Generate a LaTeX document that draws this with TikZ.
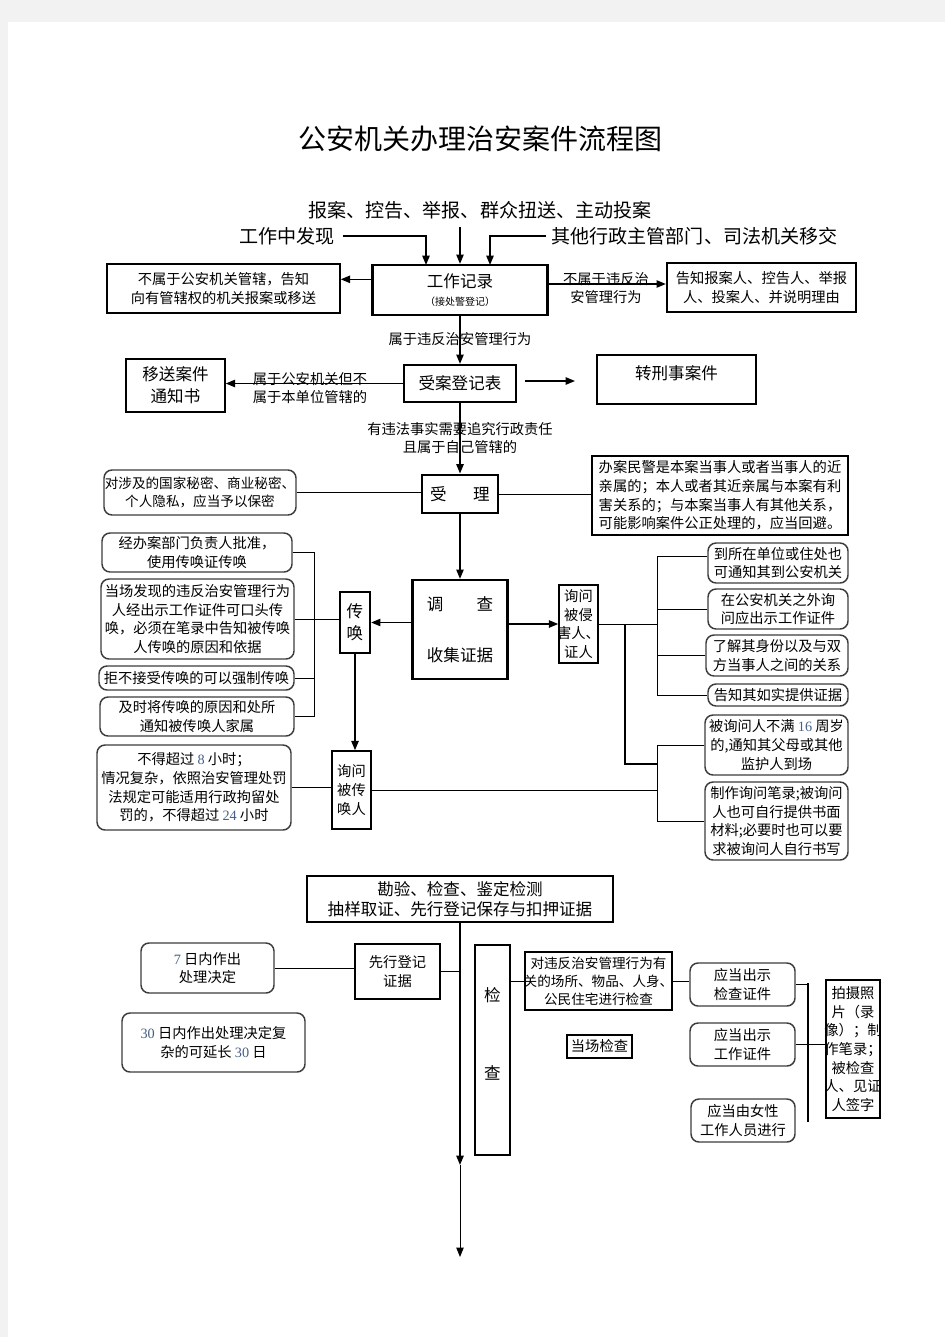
\documentclass[tikz,border=0pt]{standalone}
\usepackage{fontspec}
\setmainfont{Noto Sans CJK SC}
\newfontfamily\numfont{Liberation Serif}
\usetikzlibrary{arrows.meta}
\definecolor{pagegray}{RGB}{242,242,242}
\definecolor{numblue}{RGB}{70,95,135}
\definecolor{edgegray}{RGB}{60,60,60}
\newcommand{\num}[1]{{\numfont\color{numblue}#1}}
\newcommand{\fitline}[1]{\makebox[\linewidth]{#1}}
\tikzset{
  sz/.style 2 args={minimum width=#1*0.75pt,minimum height=#2*0.75pt},
}

\begin{document}
\begin{tikzpicture}[
      x=0.75pt,y=-0.75pt,
      >={Triangle[length=7pt,width=5.5pt]},
      every node/.style={inner sep=0pt,align=center},
      txt/.style={font=\fontsize{10.7}{14}\selectfont},
      big/.style={font=\fontsize{12.4}{16.5}\selectfont},
      head/.style={font=\fontsize{14.3}{17}\selectfont},
      box/.style={draw,line width=1.1pt,txt},
      thinbox/.style={draw,line width=0.8pt,txt},
      heavy/.style={draw,line width=1.7pt,big},
      rbox/.style={draw=edgegray,line width=1.1pt,rounded corners=6pt,txt},
      conn/.style={line width=1.1pt},
      link/.style={line width=0.75pt}
      ]
      \useasboundingbox (0,0) rectangle (945,1337);
      \fill[pagegray] (0,0) rectangle (945,1337);
      \fill[white] (8,22) rectangle (945,1337);

      \node[font=\fontsize{21}{24}\selectfont] (title) at (480,139) {公安机关办理治安案件流程图};
      \node[head] (src) at (480,210) {报案、控告、举报、群众扭送、主动投案};
      \node[head] (find) at (287,236) {工作中发现};
      \node[head] (other) at (694.5,236) {其他行政主管部门、司法机关移交};

      \node[heavy,sz={175}{50}] (rec) at (460,290) {工作记录\\[-3pt]{\fontsize{7.5}{9}\selectfont （接处警登记）}};
      \node[box,sz={233}{49}] (notpol) at (223.5,288.5) {不属于公安机关管辖，告知\\向有管辖权的机关报案或移送};
      \node[heavy,txt,sz={189}{49}] (inform) at (761.5,287.5) {告知报案人、控告人、举报\\人、投案人、并说明理由};
      \node[box,big,sz={99}{53}] (transfer) at (175.5,385.5) {移送案件\\通知书};
      \node[heavy,sz={112}{37}] (accept) at (460,383.5) {受案登记表};
      \node[heavy,sz={159}{49},text height=6pt,text depth=6pt] (crim) at (676.5,379.5) {转刑事案件};

      \node[heavy,line width=2.2pt,sz={76}{38}] (handle) at (460,494) {受\hspace{1.6em}理};
      \node[rbox,sz={192}{45},text width=144pt,font=\fontsize{10.2}{14}\selectfont] (secret) at (200,492.5) {对涉及的国家秘密、商业秘密、\\个人隐私，应当予以保密};
      \node[thinbox,sz={256}{79},align=left] (avoid) at (720,495.5) {办案民警是本案当事人或者当事人的近\\亲属的；本人或者其近亲属与本案有利\\害关系的；与本案当事人有其他关系，\\可能影响案件公正处理的，应当回避。};

      \node[heavy,sz={95}{99}] (invest) at (460,629.5) {调\hspace{2em}查\\[21.5pt]收集证据};
      \node[heavy,sz={30}{61}] (summon) at (355,622.5) {传\\唤};
      \node[rbox,sz={190}{39}] (sumA) at (197,552.5) {经办案部门负责人批准，\\使用传唤证传唤};
      \node[rbox,sz={193}{80}] (sumB) at (197.5,619) {当场发现的违反治安管理行为\\人经出示工作证件可口头传\\唤，必须在笔录中告知被传唤\\人传唤的原因和依据};
      \node[rbox,sz={195}{24}] (sumC) at (196.5,678) {拒不接受传唤的可以强制传唤};
      \node[rbox,sz={194}{39}] (sumD) at (197,716.5) {及时将传唤的原因和处所\\通知被传唤人家属};
      \node[box,sz={39}{78}] (askS) at (351.5,790) {询问\\被传\\唤人};
      \node[rbox,sz={194}{85}] (limit) at (194,787.5) {不得超过 \num{8} 小时；\\情况复杂，依照治安管理处罚\\法规定可能适用行政拘留处\\罚的，不得超过 \num{24} 小时};
      \node[box,sz={39}{78},text width=29.25pt] (askV) at (578.5,624) {询问\\被侵\\\fitline{害人、}\\证人};

      \node[rbox,sz={140}{40}] (vA) at (778,563) {到所在单位或住处也\\可通知其到公安机关};
      \node[rbox,sz={140}{40}] (vB) at (778,609) {在公安机关之外询\\问应出示工作证件};
      \node[rbox,sz={142}{41}] (vC) at (777,655.5) {了解其身份以及与双\\方当事人之间的关系};
      \node[rbox,sz={140}{22}] (vD) at (778,695) {告知其如实提供证据};
      \node[rbox,sz={143}{60}] (vE) at (776.5,745) {被询问人不满 \num{16} 周岁\\的,通知其父母或其他\\监护人到场};
      \node[rbox,sz={143}{78}] (vF) at (776.5,821) {制作询问笔录;被询问\\人也可自行提供书面\\材料;必要时也可以要\\求被询问人自行书写};

      \node[heavy,sz={306}{46},font=\fontsize{12.4}{15}\selectfont] (evid) at (460,899) {勘验、检查、鉴定检测\\抽样取证、先行登记保存与扣押证据};
      \node[box,sz={85}{55}] (prereg) at (397.5,971.5) {先行登记\\证据};
      \node[rbox,sz={133}{50}] (d7) at (207.5,968) {\num{7} 日内作出\\处理决定};
      \node[rbox,sz={183}{59}] (d30) at (213.5,1042.5) {\num{30} 日内作出处理决定复\\杂的可延长 \num{30} 日};
      \node[box,sz={35}{210}] (check) at (492.5,1050) {};
      \node[big] (checkA) at (492.5,995) {检};
      \node[big] (checkB) at (492.5,1073) {查};
      \node[thinbox,sz={147}{58},text width=110.25pt,font=\fontsize{10.2}{13.6}\selectfont] (scope) at (598.5,981) {对违反治安管理行为有\\\fitline{关的场所、物品、人身、}\\公民住宅进行检查};
      \node[thinbox,sz={65}{23}] (onsite) at (599.5,1046.5) {当场检查};
      \node[rbox,sz={105}{43}] (wA) at (742.5,984.5) {应当出示\\检查证件};
      \node[rbox,sz={105}{43}] (wB) at (742.5,1044.5) {应当出示\\工作证件};
      \node[rbox,sz={104}{43}] (wC) at (743,1120.5) {应当由女性\\工作人员进行};
      \node[thinbox,sz={54}{138},text width=40.5pt] (record) at (853,1049) {拍摄照\\\fitline{片（录}\\\fitline{像）；制}\\\fitline{作笔录；}\\被检查\\\fitline{人、见证}\\人签字};

      \coordinate (inL) at (426,265);
      \coordinate (inR) at (490,265);
      \draw[conn,->] (find.east) ++(8,0) -| (inL);
      \draw[conn,->] (src.south -| rec.north) ++(0,8) -- (rec.north);
      \draw[conn,->] (other.west) ++(-5,0) -| (inR);

      \coordinate (recL) at ([yshift=8pt]rec.west);
      \coordinate (recR) at ([yshift=4.5pt]rec.east);
      \draw[conn,->] (recL) -- (recL -| notpol.east);
      \draw[conn,->] (recR) -- (recR -| inform.west);
      \draw[conn,->] (rec.south) -- (accept.north);
      \draw[conn,->] (accept.west) -- (accept.west -| transfer.east);
      \coordinate (toCrim) at (575,381);
      \draw[conn,->] (accept.east |- toCrim) ++(8,0) -- (toCrim);
      \draw[conn,->] (accept.south) -- (handle.north);

      \node[txt] (lnot) at (606,288) {不属于违反治\\安管理行为};
      \node[txt] (lyes) at (460,339) {属于违反治安管理行为};
      \node[txt] (lbelow) at (310,388) {属于公安机关但不\\属于本单位管辖的};
      \node[txt] (lown) at (460,438) {有违法事实需要追究行政责任\\且属于自己管辖的};

      \draw[link] (secret.east) -- (secret.east -| handle.west);
      \draw[link] (handle.east) -- (handle.east -| avoid.west);
      \draw[conn,->] (handle.south) -- (invest.north);
      \draw[conn,->] (invest.west |- summon.east) -- (summon.east);
      \draw[conn,->] (invest.east |- askV.west) -- (askV.west);

      \coordinate (lb) at (314,552.5);
      \draw[link] (sumA.east) -- (lb) -- (lb |- sumD.east) -- (sumD.east);
      \draw[link] (sumC.east) -- (sumC.east -| lb);
      \draw[link] (sumB.east) -- (sumB.east -| summon.west);
      \draw[conn,->] (summon.south) -- (summon.south |- askS.north);
      \draw[link] (limit.east) -- (limit.east -| askS.west);

      \coordinate (ut) at (657,556);
      \coordinate (lt) at (657,745);
      \coordinate (mv) at (625,624);
      \coordinate (mj) at (657,764);
      \draw[link] (ut -| vA.west) -- (ut) -- (ut |- vD.west) -- (vD.west);
      \draw[link] (vB.west) -- (vB.west -| ut);
      \draw[link] (vC.west) -- (vC.west -| ut);
      \draw[link] (askV.east) -- (askV.east -| ut);
      \draw[link] (vE.west) -- (lt) -- (lt |- vF.west) -- (vF.west);
      \draw[link] (askS.east) -- (askS.east -| lt);
      \draw[conn] (mv) |- (mj);

      \coordinate (down1) at (460,1165);
      \coordinate (down2) at (460,1257);
      \draw[conn,->] (evid.south) -- (down1);
      \draw[link,->] (down1) -- (down2);
      \draw[link] (prereg.east) -- (prereg.east -| evid.south);
      \draw[link] (d7.east) -- (d7.east -| prereg.west);
      \draw[link] (check.east |- scope.west) -- (scope.west);
      \draw[link] (scope.east) -- (scope.east -| wA.west);
      \coordinate (wb) at (808,983);
      \coordinate (wbB) at (808,1122);
      \draw[conn] (wb) -- (wbB);
      \draw[link] (wA.east) -- (wA.east -| wb);
      \draw[link] (wB.east) -- (wB.east -| record.west);
    \end{tikzpicture}
\end{document}
